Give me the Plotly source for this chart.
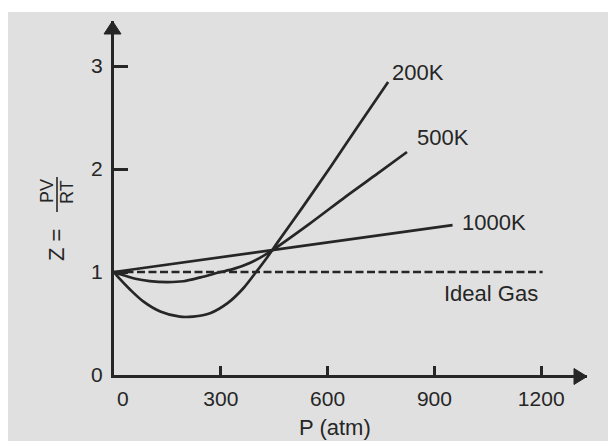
import plotly.graph_objects as go

# ---------------- data ----------------
P_200K = [0, 17, 45, 82, 130, 185, 222, 270, 320, 364, 397, 431, 460, 530, 610, 690, 770]
Z_200K = [1.0, 0.93, 0.83, 0.715, 0.617, 0.566, 0.567, 0.60, 0.70, 0.845, 0.99, 1.146, 1.29, 1.63, 2.03, 2.44, 2.845]

P_500K = [0, 20, 60, 100, 150, 195, 243, 294, 336, 383, 431, 550, 650, 740, 823]
Z_500K = [1.0, 0.975, 0.935, 0.912, 0.902, 0.91, 0.948, 0.995, 1.03, 1.09, 1.18, 1.47, 1.73, 1.955, 2.165]

P_1000K = [0, 445, 951]
Z_1000K = [1.0, 1.21, 1.455]

P_ideal = [0, 1204]
Z_ideal = [1.0, 1.0]

x_tickvals = [0, 300, 600, 900, 1200]
x_ticktext = ["\u00a0\u00a0\u00a00", "300", "600", "900", "1200"]
y_tickvals = [0, 1, 2, 3]
y_ticktext = ["0", "1", "2", "3"]

curve_labels = ["200K", "500K", "1000K", "Ideal Gas"]
label_P = [855, 925, 1066, 1060]
label_Z = [2.94, 2.31, 1.485, 0.796]

# ---------------- layout geometry ----------------
W, H = 608, 441
L, R, T, B = 114, 21, 21, 66
PW, PH = W - L - R, H - T - B
X_MAX = PW / 0.356
Y_MAX = PH / 103.0

INK = "#262626"
BG = "#e0e0e0"
FONT = "Liberation Sans, Arial, sans-serif"


def px(xpix):
    return (xpix - L) / PW


def py(ypix):
    return (H - B - ypix) / PH


def paper_path(points):
    pts = [f"{px(a):.5f},{py(b):.5f}" for a, b in points]
    return "M " + " L ".join(pts) + " Z"


fig = go.Figure()

line_style = dict(color=INK, width=2.7)
fig.add_trace(go.Scatter(x=P_200K, y=Z_200K, mode="lines", line=dict(**line_style, shape="spline", smoothing=0.8),
                         name="200K", hoverinfo="skip"))
fig.add_trace(go.Scatter(x=P_500K, y=Z_500K, mode="lines", line=dict(**line_style, shape="spline", smoothing=0.8),
                         name="500K", hoverinfo="skip"))
fig.add_trace(go.Scatter(x=P_1000K, y=Z_1000K, mode="lines", line=dict(**line_style),
                         name="1000K", hoverinfo="skip"))
fig.add_trace(go.Scatter(x=P_ideal, y=Z_ideal, mode="lines", line=dict(color=INK, width=2.4, dash="8px,3.5px"),
                         name="Ideal Gas", hoverinfo="skip"))

annotations = []
for txt, xp, zp in zip(curve_labels, label_P, label_Z):
    annotations.append(dict(x=xp, y=zp, xref="x", yref="y", text=txt, showarrow=False,
                            font=dict(family=FONT, size=22, color=INK), xanchor="center", yanchor="middle"))

# axis titles
annotations.append(dict(x=px(335), y=py(427), xref="paper", yref="paper", text="P (atm)", showarrow=False,
                        font=dict(family=FONT, size=22, color=INK), xanchor="center", yanchor="middle"))
annotations.append(dict(x=px(57), y=py(245), xref="paper", yref="paper", text="Z =", showarrow=False,
                        textangle=-90, font=dict(family=FONT, size=22, color=INK), xanchor="center", yanchor="middle"))
annotations.append(dict(x=px(47), y=py(191), xref="paper", yref="paper", text="PV", showarrow=False,
                        textangle=-90, font=dict(family=FONT, size=18, color=INK), xanchor="center", yanchor="middle"))
annotations.append(dict(x=px(67), y=py(192), xref="paper", yref="paper", text="RT", showarrow=False,
                        textangle=-90, font=dict(family=FONT, size=18, color=INK), xanchor="center", yanchor="middle"))

ax_x = L - 1.5        # pixel centre of the vertical axis line
ax_y = H - B + 1.5    # pixel centre of the horizontal axis line
shapes = [
    # white scan borders
    dict(type="rect", xref="paper", yref="paper", x0=px(0), x1=px(8), y0=py(H), y1=py(0),
         fillcolor="white", line=dict(width=0), layer="below"),
    dict(type="rect", xref="paper", yref="paper", x0=px(0), x1=px(W), y0=py(12), y1=py(0),
         fillcolor="white", line=dict(width=0), layer="below"),
    # fraction bar
    dict(type="line", xref="paper", yref="paper", x0=px(57), x1=px(57), y0=py(212), y1=py(177),
         line=dict(color=INK, width=1.6)),
    # arrow heads
    dict(type="path", xref="paper", yref="paper",
         path=paper_path([(ax_x - 8.5, T + 13), (ax_x + 8.5, T + 13), (ax_x, T)]),
         fillcolor=INK, line=dict(color=INK, width=1)),
    dict(type="path", xref="paper", yref="paper",
         path=paper_path([(W - R - 13, ax_y - 8), (W - R - 13, ax_y + 8), (W - R, ax_y)]),
         fillcolor=INK, line=dict(color=INK, width=1)),
]

fig.update_layout(
    width=W, height=H,
    margin=dict(l=L, r=R, t=T, b=B, pad=0),
    paper_bgcolor=BG, plot_bgcolor=BG,
    showlegend=False,
    annotations=annotations,
    shapes=shapes,
    xaxis=dict(range=[0, X_MAX], showgrid=False, zeroline=False, showline=True, linecolor=INK, linewidth=3,
               ticks="inside", ticklen=9, tickwidth=2.5, tickcolor=INK,
               tickvals=x_tickvals, ticktext=x_ticktext, ticklabelstandoff=3,
               tickfont=dict(family=FONT, size=21, color=INK), fixedrange=True),
    yaxis=dict(range=[0, Y_MAX], showgrid=False, zeroline=False, showline=True, linecolor=INK, linewidth=3,
               ticks="inside", ticklen=14, tickwidth=2.5, tickcolor=INK,
               tickvals=y_tickvals, ticktext=y_ticktext, ticklabelstandoff=4,
               tickfont=dict(family=FONT, size=21, color=INK), fixedrange=True),
)

fig.write_html("out.html", config={"displayModeBar": False},
               post_script="document.body.style.margin='0';document.body.style.overflow='hidden';")
